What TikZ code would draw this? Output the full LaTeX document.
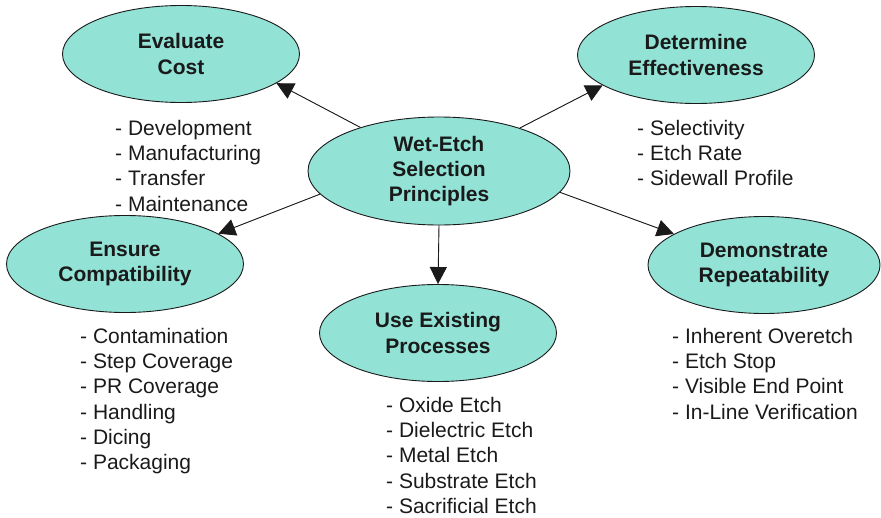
\documentclass[tikz,border=0pt]{standalone}
\usepackage{fontspec}
\setmainfont{Liberation Sans}
\usetikzlibrary{shapes,arrows.meta,positioning}
\definecolor{tealfill}{RGB}{146,226,214}
\definecolor{ink}{RGB}{26,26,26}

\begin{document}
\begin{tikzpicture}[x=1pt,y=-1pt,
    goal/.style={ellipse,draw=ink,line width=0.9pt,fill=tealfill,inner sep=0pt,minimum width=237pt,minimum height=97pt,align=center,text=ink,font=\fontsize{21}{25.3}\selectfont\bfseries},
    items/.style={anchor=north west,inner sep=0pt,align=left,text=ink,font=\fontsize{21}{25.2}\selectfont},
    arrow/.style={-{Triangle[length=17pt,width=17pt]},draw=ink,fill=ink,line width=0.9pt}]
    \useasboundingbox (0,0) rectangle (881,517);
    \node[goal,minimum width=262pt,minimum height=108pt] (wet) at (439,171) {Wet-Etch\\Selection\\Principles};
    \node[goal] (cost) at (181,54) {Evaluate\\Cost};
    \node[goal] (eff) at (696,55) {Determine\\Effectiveness};
    \node[goal] (compat) at (125,264) {Ensure\\Compatibility};
    \node[goal] (exist) at (438,333) {Use Existing\\Processes};
    \node[goal,minimum width=232pt] (repeat) at (764,265) {Demonstrate\\Repeatability};
    \node[items] (costlist) at (115,120) {- Development\\- Manufacturing\\- Transfer\\- Maintenance};
    \node[items] (efflist) at (637,120) {- Selectivity\\- Etch Rate\\- Sidewall Profile};
    \node[items] (compatlist) at (80,328) {- Contamination\\- Step Coverage\\- PR Coverage\\- Handling\\- Dicing\\- Packaging};
    \node[items] (existlist) at (386,397) {- Oxide Etch\\- Dielectric Etch\\- Metal Etch\\- Substrate Etch\\- Sacrificial Etch};
    \node[items] (replist) at (672,328) {- Inherent Overetch\\- Etch Stop\\- Visible End Point\\- In-Line Verification};
    \draw[arrow] (wet.151) -- (cost.-17);
    \draw[arrow] (wet.28) -- (eff.-162);
    \draw[arrow] (wet.191) -- (compat.18);
    \draw[arrow] (wet.-10) -- (repeat.161);
    \draw[arrow] (wet.south) -- (exist.north);
\end{tikzpicture}
\end{document}
